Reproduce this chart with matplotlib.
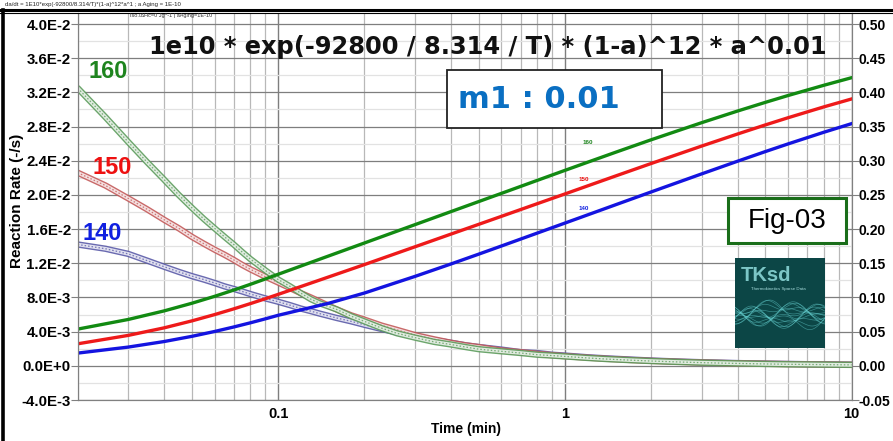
import numpy as np
import matplotlib
matplotlib.use("Agg")
import matplotlib.pyplot as plt
from matplotlib.patches import Rectangle
from matplotlib.ticker import LogLocator, NullFormatter, FixedLocator

# ---- data ----
# conversion (right axis), solid lines
t_conv = [0.02, 0.03, 0.04, 0.05, 0.06, 0.07, 0.08, 0.09, 0.1, 0.15, 0.2, 0.3, 0.4,
          0.5, 0.6, 0.8, 1.0, 1.2, 1.5, 2, 3, 4, 5, 6, 8, 10]
conv_160 = [0.0537, 0.0678, 0.0803, 0.0915, 0.1016, 0.1108, 0.1192, 0.1269, 0.1339,
            0.1607, 0.1797, 0.2065, 0.2255, 0.2402, 0.2522, 0.2712, 0.2859, 0.2978,
            0.3123, 0.3307, 0.3557, 0.3727, 0.3854, 0.3954, 0.4104, 0.4215]
conv_150 = [0.0322, 0.0445, 0.0555, 0.0657, 0.0749, 0.0833, 0.0910, 0.0980, 0.1045,
            0.1300, 0.1481, 0.1741, 0.1926, 0.2069, 0.2186, 0.2371, 0.2514, 0.2632,
            0.2776, 0.2960, 0.3215, 0.3391, 0.3524, 0.3629, 0.3788, 0.3904]
conv_140 = [0.0186, 0.0274, 0.0355, 0.0431, 0.0502, 0.0568, 0.0629, 0.0686, 0.0739,
            0.0915, 0.1065, 0.1308, 0.1489, 0.1633, 0.1752, 0.1941, 0.2088, 0.2208,
            0.2355, 0.2544, 0.2808, 0.2993, 0.3134, 0.3246, 0.3417, 0.3543]

# reaction rate (left axis), hollow markers
t_rate = [0.02, 0.025, 0.03, 0.035, 0.04, 0.045, 0.05, 0.055, 0.06, 0.065, 0.07, 0.075,
          0.08, 0.09, 0.1, 0.11, 0.12, 0.13, 0.14, 0.16, 0.18, 0.2, 0.23, 0.26, 0.3,
          0.35, 0.4, 0.45, 0.5, 0.6, 0.7, 0.8, 0.9, 1.0, 1.2, 1.4, 1.7, 2, 2.5, 3, 4,
          5, 6, 7, 8, 10]
rate_160 = [0.0325, 0.0291, 0.0262, 0.0238, 0.0218, 0.0200, 0.0185, 0.0172, 0.0161,
            0.0151, 0.0142, 0.0133, 0.0125, 0.0112, 0.0101, 0.0093, 0.0085, 0.0078,
            0.0073, 0.0066, 0.0058, 0.0052, 0.0044, 0.0038, 0.0033, 0.0028, 0.0025,
            0.0022, 0.00195, 0.0017, 0.0015, 0.0013, 0.0012, 0.0011, 0.00092, 0.00079,
            0.00066, 0.00056, 0.00045, 0.00037, 0.00028, 0.00022, 0.00018, 0.00016,
            0.00014, 0.00011]
rate_150 = [0.0226, 0.0211, 0.0196, 0.0183, 0.0171, 0.0161, 0.0151, 0.0143, 0.0136,
            0.0130, 0.0124, 0.0118, 0.0113, 0.01045, 0.00975, 0.0091, 0.0085, 0.0080,
            0.0075, 0.0066, 0.0059, 0.0054, 0.0047, 0.0042, 0.0036, 0.0031, 0.0027,
            0.0024, 0.0022, 0.0018, 0.0016, 0.0014, 0.00125, 0.00113, 0.00095, 0.00082,
            0.00068, 0.00058, 0.00047, 0.00039, 0.00029, 0.00024, 0.0002, 0.00017,
            0.00015, 0.00012]
rate_140 = [0.0142, 0.0137, 0.0131, 0.0123, 0.0116, 0.0110, 0.0105, 0.0101, 0.0097,
            0.0093, 0.0090, 0.0087, 0.0084, 0.0079, 0.0075, 0.0071, 0.0067, 0.0064,
            0.0061, 0.0056, 0.0052, 0.0048, 0.0043, 0.0039, 0.0035, 0.0030, 0.0027,
            0.0024, 0.0022, 0.0019, 0.0016, 0.0015, 0.0013, 0.0012, 0.001, 0.00087,
            0.00073, 0.00062, 0.0005, 0.00042, 0.00032, 0.00026, 0.00022, 0.00019,
            0.00017, 0.00013]

temps = ["160", "150", "140"]
left_ticks = [-0.004, 0.0, 0.004, 0.008, 0.012, 0.016, 0.020, 0.024, 0.028, 0.032, 0.036, 0.040]
left_labels = ["-4.0E-3", "0.0E+0", "4.0E-3", "8.0E-3", "1.2E-2", "1.6E-2", "2.0E-2",
               "2.4E-2", "2.8E-2", "3.2E-2", "3.6E-2", "4.0E-2"]
right_ticks = [-0.05, 0.0, 0.05, 0.10, 0.15, 0.20, 0.25, 0.30, 0.35, 0.40, 0.45, 0.50]
x_ticks = [0.1, 1, 10]
x_labels = ["0.1", "1", "10"]

title = "1e10 * exp(-92800 / 8.314 / T) * (1-a)^12 * a^0.01"
header = "da/dt = 1E10*exp(-92800/8.314/T)*(1-a)^12*a^1 ; a Aging = 1E-10"
subhead = "Iso./\u0394Hc=0 Jg^-1 | aAging=1E-10"

line_col = ["#128a12", "#ee1a1a", "#1414e0"]
mark_col = ["#5c9c5c", "#c45a5a", "#5a5aa8"]
text_col = ["#1e841e", "#ee1111", "#1020e0"]

W, H = 893, 441
def fx(x):
    return x / W
def fy(y):
    return 1 - y / H

plt.rcParams['font.family'] = ['Liberation Sans', 'DejaVu Sans']

fig = plt.figure(figsize=(W / 100, H / 100), dpi=100)
fig.patch.set_facecolor("white")

ax = fig.add_axes([fx(77.7), fy(400), fx(851.7) - fx(77.7), fy(13) - fy(400)])
ax.set_xscale("log")
ax.set_xlim(0.02, 10)
ax.set_ylim(-0.004, 0.04129)

ax.xaxis.set_major_locator(FixedLocator(x_ticks))
ax.set_xticklabels(x_labels, fontsize=10.5, fontweight="bold")
ax.xaxis.set_minor_locator(LogLocator(base=10, subs=np.arange(2, 10)))
ax.xaxis.set_minor_formatter(NullFormatter())
ax.tick_params(axis="x", which="both", length=0, pad=5)

ax.set_yticks(left_ticks)
ax.set_yticklabels(left_labels, fontsize=10.8, fontweight="bold")
ax.set_yticks(np.arange(-0.004, 0.0405, 0.002), minor=True)
ax.tick_params(axis="y", which="major", direction="out", length=5, color="#808080", pad=0)
ax.tick_params(axis="y", which="minor", length=0)

ax.grid(which="major", axis="y", color="#7e7e7e", lw=0.9)
ax.grid(which="minor", axis="y", color="#e2e2e2", lw=0.9)
ax.grid(which="major", axis="x", color="#7e7e7e", lw=1.0)
ax.grid(which="minor", axis="x", color="#b8b8b8", lw=0.9)
ax.set_axisbelow(True)
ax.spines["top"].set_visible(False)
for s in ["left", "right", "bottom"]:
    ax.spines[s].set_color("#808080")

fig.text(fx(17), fy(201), "Reaction Rate (-/s)", fontsize=11, fontweight="bold",
         rotation=90, ha="center", va="center")
fig.text(fx(466), fy(429), "Time (min)", fontsize=10, fontweight="bold",
         ha="center", va="center")

# rate series: chain of hollow circles
for r, mc in zip([rate_140, rate_150, rate_160], mark_col[::-1]):
    ax.plot(t_rate, r, color=mc, lw=4.6, solid_capstyle="round", alpha=0.9)
    ax.plot(t_rate, r, color="white", lw=2.6, alpha=0.8)
    ax.plot(t_rate, r, color=mc, lw=0.9, ls=(0, (1.2, 1.6)), alpha=0.8)

ax2 = ax.twinx()
ax2.set_ylim(-0.05, 0.5161)
ax2.set_yticks(right_ticks)
ax2.set_yticklabels(["%.2f" % v for v in right_ticks], fontsize=10, fontweight="bold")
ax2.tick_params(axis="y", direction="out", length=5, color="#808080", pad=0)
ax2.spines["top"].set_visible(False)
for s in ["left", "right", "bottom"]:
    ax2.spines[s].set_color("#808080")

for c, lc in zip([conv_160, conv_150, conv_140], line_col):
    ax2.plot(t_conv, c, color=lc, lw=2.4)

# labels
big_pos = [(108.5, 72), (112, 168), (102, 233)]
small_pos = [(588, 142), (584, 179), (584, 208)]
for name, tc, bp, sp in zip(temps, text_col, big_pos, small_pos):
    fig.text(fx(bp[0]), fy(bp[1]), name, color=tc, fontsize=17, fontweight="bold",
             ha="center", va="center")
    fig.text(fx(sp[0]), fy(sp[1]), name, color=tc, fontsize=4.5, fontweight="bold",
             ha="center", va="center")

fig.text(fx(488), fy(47), title, fontsize=17.4, fontweight="bold", family="DejaVu Sans",
         ha="center", va="center", color="#111111")

# m1 box
fig.patches.append(Rectangle((fx(447), fy(128)), fx(662) - fx(447), fy(70) - fy(128),
                             transform=fig.transFigure, facecolor="white",
                             edgecolor="#222222", lw=1.3, zorder=5))
fig.text(fx(458), fy(100), "m1 : 0.01", fontsize=22, fontweight="bold",
         family="DejaVu Sans", color="#0a6fc2", ha="left", va="center", zorder=6)

# Fig-03 box
fig.patches.append(Rectangle((fx(728), fy(243)), fx(846) - fx(728), fy(198) - fy(243),
                             transform=fig.transFigure, facecolor="white",
                             edgecolor="#1a6e1a", lw=2.2, zorder=5))
fig.text(fx(787), fy(221), "Fig-03", fontsize=20, color="black", ha="center",
         va="center", zorder=6)

# logo
axl = fig.add_axes([fx(735), fy(348), 90 / W, 90 / H])
axl.set_facecolor("#0c4646")
axl.set_xlim(0, 1)
axl.set_ylim(0, 1)
axl.set_xticks([])
axl.set_yticks([])
for s in axl.spines.values():
    s.set_visible(False)
axl.text(0.06, 0.81, "TKsd", fontsize=14.5, fontweight="bold", color="#7cc6c6",
         va="center", ha="left")
axl.text(0.48, 0.655, "Thermokinetics Sparse Data", fontsize=3.2, color="#a6dcdc",
         va="center", ha="center")
xx = np.linspace(0, 1, 120)
for k in range(14):
    ph = k * 0.45
    yy = 0.33 + 0.08 * np.sin(6 * xx + ph) + 0.05 * np.sin(13 * xx - 1.7 * ph) + 0.006 * k
    axl.plot(xx, yy, color="#6fe0e0", lw=0.5, alpha=0.45)

# outer frame and tiny header texts
fig.add_artist(plt.Line2D([0, 1], [fy(9.5), fy(9.5)], color="black", lw=2.2,
                          transform=fig.transFigure))
fig.add_artist(plt.Line2D([0, 1], [fy(12.8), fy(12.8)], color="black", lw=0.8,
                          transform=fig.transFigure))
fig.add_artist(plt.Line2D([fx(3), fx(3)], [0, fy(9.5)], color="black", lw=2.6,
                          transform=fig.transFigure))
fig.text(fx(5), fy(4.5), header, fontsize=4.3, ha="left", va="center", color="#222222")
fig.text(fx(130), fy(16), subhead, fontsize=4, ha="left", va="center", color="#333333")

fig.savefig("out.png", dpi=100)
